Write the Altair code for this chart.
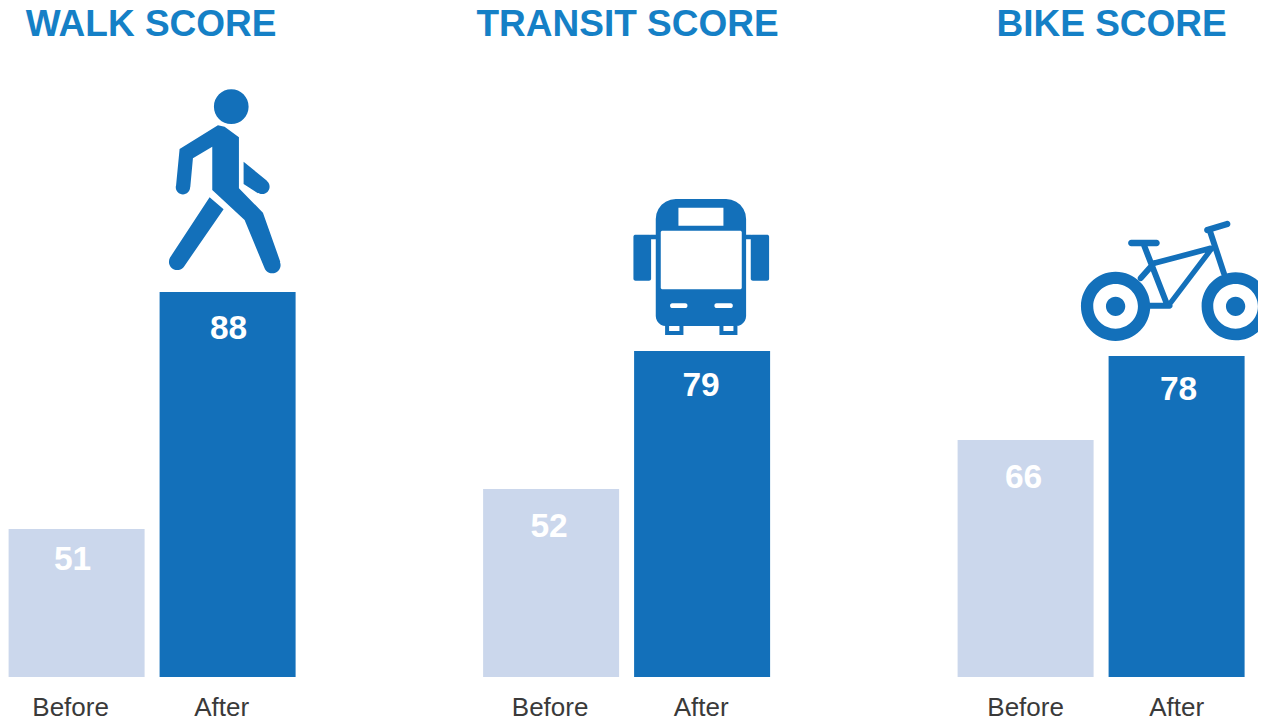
import math
import altair as alt

# ---- values ----
panels = ["WALK SCORE", "TRANSIT SCORE", "BIKE SCORE"]
series = ["Before", "After"]
scores = [[51, 88], [52, 79], [66, 78]]
bar_heights = [[148, 385], [188, 326], [237, 321]]   # drawn heights (not proportional to score)
label_heights = [[117, 348], [150, 291], [199, 287]]

# ---- layout tweaks ----
TITLE_DX = [-1, 1, 10.5]
AXIS_LABEL_OFFSET = [-6, -1, 0]
VALUE_DX = [[-4, 1], [-2, -1], [-2, 2]]

DARK = "#1370BA"
LIGHT = "#CBD7EC"
TITLE = "#1580C6"
TEXT = "#3A3A3A"
FONT = "Liberation Sans"
PLOT_H = 610
ICON_SIZE = 4 / 9  # path units are 1/3 px


# ---- icon helpers: path units relative to the top-centre of the After bar ----
def poly(pts, o, hole=False):
    area = sum(pts[i][0] * pts[(i + 1) % len(pts)][1] - pts[(i + 1) % len(pts)][0] * pts[i][1]
               for i in range(len(pts)))
    if (area < 0) != hole:
        pts = pts[::-1]
    return "M" + "L".join(f"{x - o[0]:.1f},{y - o[1]:.1f}" for x, y in pts) + "Z"


def circ(cx, cy, r, o, hole=False):
    x, y = cx - o[0], cy - o[1]
    s = 0 if hole else 1
    return (f"M{x - r:.1f},{y:.1f}A{r},{r} 0 1 {s} {x + r:.1f},{y:.1f}"
            f"A{r},{r} 0 1 {s} {x - r:.1f},{y:.1f}Z")


def rrect(x0, y0, x1, y1, rt, rb, o, hole=False):
    pts = []
    for cx, cy, r, a0 in [(x1 - rt, y0 + rt, rt, -90), (x1 - rb, y1 - rb, rb, 0),
                          (x0 + rb, y1 - rb, rb, 90), (x0 + rt, y0 + rt, rt, 180)]:
        for k in range(7):
            a = math.radians(a0 + 15 * k)
            pts.append((cx + r * math.cos(a), cy + r * math.sin(a)))
    return poly(pts, o, hole)


def seg(x0, y0, x1, y1, w, o):
    dx, dy = x1 - x0, y1 - y0
    n = math.hypot(dx, dy)
    nx, ny = -dy / n * w / 2, dx / n * w / 2
    return (poly([(x0 + nx, y0 + ny), (x1 + nx, y1 + ny), (x1 - nx, y1 - ny), (x0 - nx, y0 - ny)], o)
            + circ(x0, y0, w / 2, o) + circ(x1, y1, w / 2, o))


o = (234, 636)
walk_icon = (
    circ(245, 80, 52, o)
    + poly([(205, 136), (225, 140), (268, 172), (268, 325), (340, 398), (392, 545), (345, 565),
            (285, 420), (188, 330), (188, 200), (130, 235), (122, 322), (79, 320), (90, 207)], o)
    + circ(368, 555, 25, o) + circ(100, 322, 21.5, o)
    + poly([(282, 245), (352, 302), (325, 340), (282, 312)], o) + circ(338, 320, 22, o)
    + poly([(180, 352), (222, 388), (103, 560), (63, 530)], o) + circ(83, 545, 25, o)
)

o = (246, 483)
bus_icon = (
    rrect(107, 27, 378, 408, 60, 30, o)
    + rrect(122, 122, 365, 298, 5, 5, o, hole=True)
    + poly([(175, 53), (310, 53), (310, 107), (175, 107)], o, hole=True)
    + rrect(150, 340, 202, 354, 6, 6, o, hole=True)
    + rrect(283, 340, 338, 354, 6, 6, o, hole=True)
    + rrect(40, 134, 93, 272, 6, 6, o) + rrect(392, 134, 447, 272, 6, 6, o)
    + poly([(90, 134), (110, 134), (110, 148), (90, 148)], o)
    + poly([(375, 134), (395, 134), (395, 148), (375, 148)], o)
    + poly([(135, 400), (147, 400), (147, 423), (178, 423), (178, 400), (190, 400), (190, 435), (135, 435)], o)
    + poly([(298, 400), (310, 400), (310, 423), (340, 423), (340, 400), (352, 400), (352, 435), (298, 435)], o)
)

o = (333, 438)
bike_icon = (
    circ(150, 289, 104, o) + circ(150, 289, 67, o, hole=True) + circ(150, 289, 29, o)
    + circ(510, 289, 102, o) + circ(510, 289, 67, o, hole=True) + circ(510, 289, 29, o)
    + seg(475, 190, 432, 60, 18, o)
    + seg(425, 60, 485, 42, 19, o)
    + seg(265, 160, 435, 115, 17, o)
    + seg(435, 120, 310, 285, 16, o)
    + seg(235, 105, 305, 285, 18, o)
    + seg(197, 99, 273, 99, 19, o)
    + seg(240, 287, 312, 287, 18, o)
    + seg(265, 160, 225, 205, 18, o)
)
icons = [walk_icon, bus_icon, bike_icon]


def panel(i):
    rows = [
        {"series": series[j], "score": scores[i][j], "bar": bar_heights[i][j], "lab": label_heights[i][j]}
        for j in range(2)
    ]
    data = alt.Data(values=rows)
    x = alt.X(
        "series:N",
        sort=series,
        scale=alt.Scale(domain=series, paddingInner=0.0993, paddingOuter=0),
        axis=alt.Axis(title=None, ticks=False, domain=False, labelAngle=0, labelFont=FONT,
                      labelFontSize=26, labelColor=TEXT, labelPadding=17, grid=False,
                      labelOffset=AXIS_LABEL_OFFSET[i]),
    )
    yscale = alt.Scale(domain=[0, PLOT_H], nice=False, clamp=False)
    bars = alt.Chart(data).mark_bar().encode(
        x=x,
        y=alt.Y("bar:Q", scale=yscale, axis=None),
        color=alt.Color("series:N", scale=alt.Scale(domain=series, range=[LIGHT, DARK]), legend=None),
    )
    value_layers = [
        alt.Chart(data).transform_filter(alt.datum.series == series[j]).mark_text(
            font=FONT, fontSize=33.5, fontWeight="bold", color="#FFFFFF", baseline="middle",
            dx=VALUE_DX[i][j]
        ).encode(x=x, y=alt.Y("lab:Q", scale=yscale, axis=None), text="score:Q")
        for j in range(2)
    ]
    icon = alt.Chart(data).transform_filter(alt.datum.series == "After").mark_point(
        shape=icons[i], size=ICON_SIZE, filled=True, color=DARK, opacity=1, strokeWidth=0
    ).encode(x=x, y=alt.Y("bar:Q", scale=yscale, axis=None))
    return alt.layer(bars, *value_layers, icon).properties(
        width=287,
        height=PLOT_H,
        title=alt.TitleParams(panels[i], font=FONT, fontSize=37, fontWeight="bold", color=TITLE,
                              anchor="middle", offset=23, dx=TITLE_DX[i]),
    )


chart = (
    alt.hconcat(panel(0), panel(1), panel(2), spacing=187.5, bounds="flush")
    .properties(padding={"left": 0.6, "top": -2, "right": -12.1, "bottom": 0}, background="#FFFFFF")
    .configure_view(strokeWidth=0, stroke="transparent")
)

chart.save("out.html", embed_options={"renderer": "svg", "actions": False})
